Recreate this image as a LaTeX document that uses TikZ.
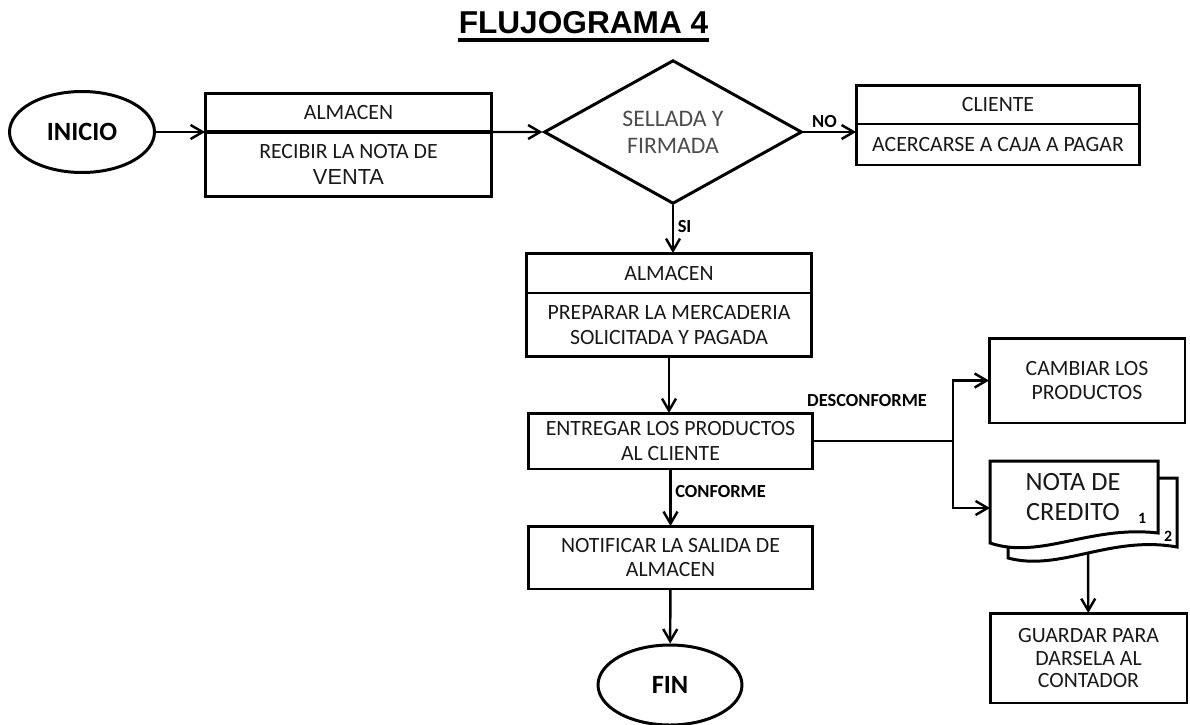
\documentclass[tikz,border=0pt]{standalone}
\usepackage{fontspec}
\setmainfont{Carlito}
\newfontfamily\arial{Liberation Sans}
\usetikzlibrary{positioning,shapes.geometric,arrows.meta}

\begin{document}
\begin{tikzpicture}[x=0.02cm,y=-0.02cm,
		caja/.style={draw,line width=1.7pt,outer sep=0pt,inner sep=2pt,align=center,text=black!90,font=\fontsize{12.4}{14}\selectfont},
		terminal/.style={draw,ellipse,line width=1.7pt,minimum width=2.9cm,minimum height=1.62cm,font=\fontsize{15}{18}\selectfont\bfseries},
		flecha/.style={line width=1.4pt,-{Straight Barb[length=2.4mm,width=2.8mm]}},
		etiqueta/.style={font=\fontsize{10.5}{12}\selectfont\bfseries,inner sep=2pt}]
	\useasboundingbox (0,0) rectangle (1190,724);

	\node[font=\arial\fontsize{18}{21}\selectfont\bfseries,inner sep=0pt,anchor=base] (titulo) at (583.5,33) {FLUJOGRAMA 4};
	\draw[line width=1.8pt] ([yshift=-4pt]titulo.base west) -- ([yshift=-4pt]titulo.base east);

	\node[terminal] (inicio) at (82,132) {INICIO};
	\node[caja,minimum width=5.74cm,minimum height=0.78cm] (alm1h) at (348.5,112.5) {ALMACEN};
	\node[caja,minimum width=5.74cm,minimum height=1.3cm,below=0pt of alm1h] (alm1) {RECIBIR LA NOTA DE\\[1pt]{\arial VENTA}};
	\node[draw,diamond,line width=1.7pt,minimum width=5.16cm,minimum height=2.56cm,inner sep=0pt,align=center,text=black!70,font=\fontsize{13.5}{15.5}\selectfont] (dec) at (673,132) {SELLADA Y\\FIRMADA};
	\node[caja,minimum width=5.68cm,minimum height=0.78cm] (clih) at (998,104.5) {CLIENTE};
	\node[caja,minimum width=5.68cm,minimum height=0.82cm,below=0pt of clih] (cli) {ACERCARSE A CAJA A PAGAR};
	\node[caja,minimum width=5.72cm,minimum height=0.8cm] (alm2h) at (669,273) {ALMACEN};
	\node[caja,minimum width=5.72cm,minimum height=1.28cm,below=0pt of alm2h] (alm2) {PREPARAR LA MERCADERIA\\SOLICITADA Y PAGADA};
	\node[caja,minimum width=5.7cm,minimum height=1.12cm] (entregar) at (670.5,441) {ENTREGAR LOS PRODUCTOS\\AL CLIENTE};
	\node[caja,minimum width=5.7cm,minimum height=1.26cm] (notificar) at (670.5,557.5) {NOTIFICAR LA SALIDA DE\\ALMACEN};
	\node[terminal,minimum width=2.88cm,minimum height=1.6cm] (fin) at (670,685) {FIN};
	\node[caja,minimum width=3.92cm,minimum height=1.7cm] (cambiar) at (1087,380.5) {CAMBIAR LOS\\PRODUCTOS};
	\node[caja,minimum width=3.94cm,minimum height=1.8cm,font=\fontsize{12.4}{13}\selectfont] (guardar) at (1088.5,658) {GUARDAR PARA\\DARSELA AL\\CONTADOR};

	% nota de credito, dos copias
	\draw[line width=1.7pt,fill=white] (1008,478) -- (1177,478) -- (1177,547) .. controls (1110,535) and (1060,572) .. (1008,558) -- cycle;
	\draw[line width=1.7pt,fill=white] (990,461) -- (1158,461) -- (1158,533) .. controls (1090,525) and (1040,560) .. (990,543) -- cycle;
	\node[align=center,text=black!90,font=\fontsize{15}{17}\selectfont] (nota) at (1073,497) {NOTA DE\\CREDITO};
	\node[font=\fontsize{9}{10}\selectfont\bfseries] (copia1) at (1142,518) {1};
	\node[font=\fontsize{9}{10}\selectfont\bfseries] (copia2) at (1168,536) {2};
	\coordinate (nota-w) at (990,508);
	\coordinate (nota-s) at (1088,553);

	\draw[flecha] (inicio.east) -- (inicio.east -| alm1.west);
	\draw[line width=2.4pt] (alm1.north west) -- (alm1.north east);
	\draw[flecha] (alm1.north east) -- (dec);
	\draw[flecha] (dec.east) -- node[etiqueta,above,pos=0.4] {NO} (dec.east -| cli.west);
	\draw[flecha] (dec.south) -- node[etiqueta,right,pos=0.45] {SI} (dec.south |- alm2h.north);
	\draw[flecha] (alm2.south) -- (alm2.south |- entregar.north);
	\draw[flecha] (entregar) -- node[etiqueta,right,pos=0.4] {CONFORME} (notificar);
	\draw[flecha] (notificar) -- (fin);
	\draw[flecha] (entregar.east) -- ++(140,0) coordinate (rama) |- (cambiar.west);
	\draw[flecha] (rama) |- (nota-w);
	\node[etiqueta] at (867,401) {DESCONFORME};
	\draw[flecha] (nota-s) -- (guardar);
\end{tikzpicture}
\end{document}
